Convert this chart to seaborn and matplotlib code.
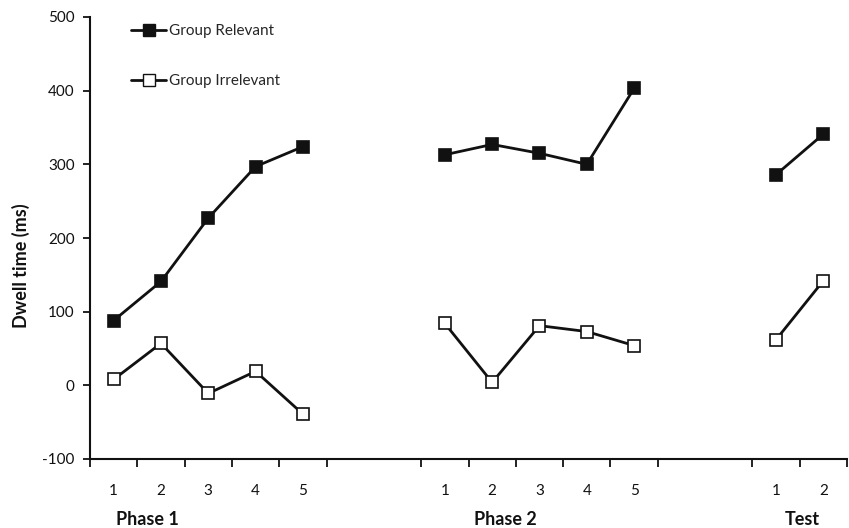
import matplotlib
matplotlib.use("Agg")
import matplotlib.pyplot as plt
from matplotlib.lines import Line2D
import seaborn as sns
import pandas as pd

# Dwell time (ms) per block
phases = ["Phase 1", "Phase 2", "Test"]
blocks = {"Phase 1": [1, 2, 3, 4, 5], "Phase 2": [1, 2, 3, 4, 5], "Test": [1, 2]}
relevant = {"Phase 1": [88, 141, 227, 297, 324],
            "Phase 2": [313, 327, 315, 300, 403],
            "Test": [286, 341]}
irrelevant = {"Phase 1": [8, 57, -11, 19, -39],
              "Phase 2": [84, 4, 81, 73, 54],
              "Test": [62, 142]}
groups = ["Group Relevant", "Group Irrelevant"]

# slot offset of each phase on the category axis (two empty slots between phases)
offsets = {"Phase 1": 0, "Phase 2": 7, "Test": 14}

rows = []
for ph in phases:
    for i, b in enumerate(blocks[ph]):
        x = offsets[ph] + i + 0.5
        rows.append({"x": x, "block": b, "phase": ph, "group": groups[0], "dwell": relevant[ph][i]})
        rows.append({"x": x, "block": b, "phase": ph, "group": groups[1], "dwell": irrelevant[ph][i]})
df = pd.DataFrame(rows)

sns.set_theme(style="ticks")
plt.rcParams["font.family"] = ["Lato", "DejaVu Sans"]
plt.rcParams["axes.unicode_minus"] = False

fig = plt.figure(figsize=(8.49, 5.28), dpi=100)
ax = fig.add_axes([90 / 849, 69 / 528, 757 / 849, 442 / 528])

face = {groups[0]: "#111111", groups[1]: "white"}
for ph in phases:
    for g in groups:
        sub = df[(df.phase == ph) & (df.group == g)]
        sns.lineplot(data=sub, x="x", y="dwell", ax=ax, color="#111111", lw=2,
                     marker="s", markersize=8, markerfacecolor=face[g],
                     markeredgecolor="#111111", markeredgewidth=1.2,
                     legend=False, zorder=3)

ax.set_xlim(0, 16)
ax.set_ylim(-100, 500)
ax.set_yticks(range(-100, 501, 100))
sns.despine(ax=ax)
for s in ["left", "bottom"]:
    ax.spines[s].set_linewidth(1.5)
    ax.spines[s].set_color("#111111")

# boundary tick marks, labels at category centres
bounds = [0, 1, 2, 3, 4, 5, 7, 8, 9, 10, 11, 12, 14, 15, 16]
ax.set_xticks(bounds)
ax.set_xticklabels([])
ax.set_xticks(df.x.unique(), minor=True)
ax.set_xticklabels([str(b) for ph in phases for b in blocks[ph]], minor=True)
ax.tick_params(axis="x", which="major", length=6, width=1.3, color="#111111", direction="out")
ax.tick_params(axis="x", which="minor", length=0, pad=18, labelsize=11, labelcolor="#111111")
ax.tick_params(axis="y", length=5, width=1.3, color="#111111", pad=6, labelsize=11, labelcolor="#111111")

ax.set_xlabel("")
ax.set_ylabel("Dwell time (ms)", fontsize=13, fontweight="bold", color="#111111", labelpad=12)
ax.yaxis.set_label_coords(-0.079, 0.437)

phase_x = {"Phase 1": 1.22, "Phase 2": 8.77, "Test": 15.05}
for ph in phases:
    ax.text(phase_x[ph], -0.138, ph, transform=ax.get_xaxis_transform(), ha="center", va="center",
            fontsize=13, fontweight="bold", color="#111111")

handles = [Line2D([], [], color="#111111", lw=2, marker="s", markersize=8,
                  markerfacecolor=face[g], markeredgecolor="#111111") for g in groups]
ax.legend(handles, groups, loc="upper left", bbox_to_anchor=(0.036, 1.015), frameon=False,
          fontsize=11, handlelength=2.3, handletextpad=0.2, labelspacing=2.35)

fig.savefig("out.png", dpi=100)
